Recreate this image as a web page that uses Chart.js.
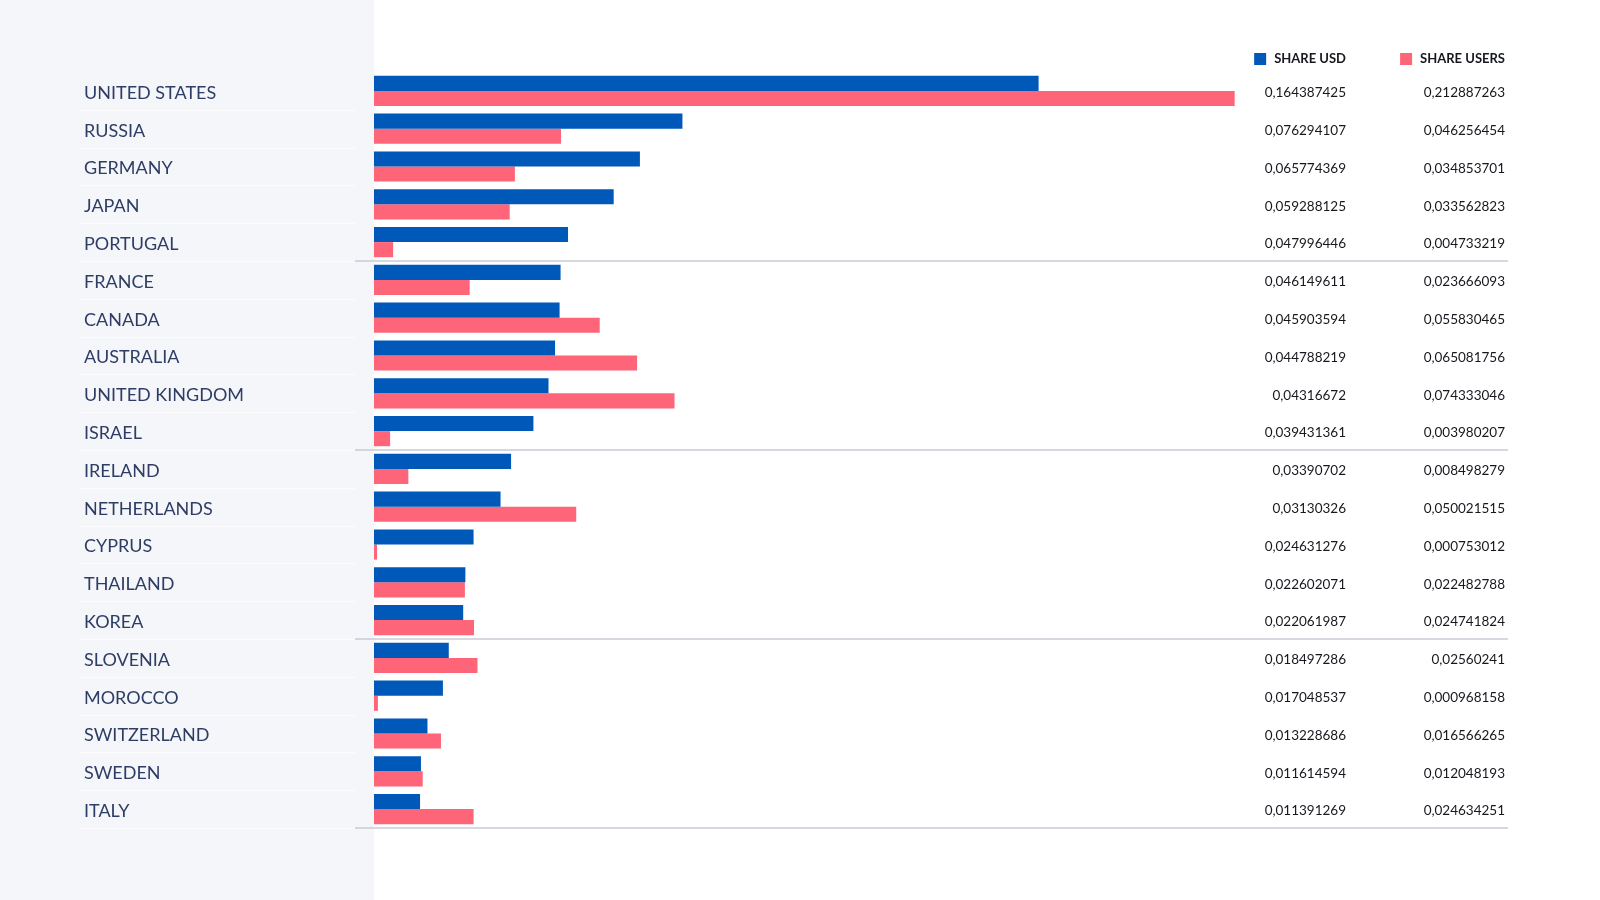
<!DOCTYPE html>
<html>
<head>
<meta charset="utf-8">
<title>Share USD vs Share Users</title>
<script src="https://cdn.jsdelivr.net/npm/chart.js@4"></script>
<style>
html,body{margin:0;padding:0;background:#fff;}
#wrap{width:1600px;height:900px;position:relative;}
</style>
</head>
<body>
<div id="wrap"><canvas id="chart" width="1600" height="900"></canvas></div>
<script>

let countries = ["UNITED STATES","RUSSIA","GERMANY","JAPAN","PORTUGAL","FRANCE","CANADA","AUSTRALIA","UNITED KINGDOM","ISRAEL","IRELAND","NETHERLANDS","CYPRUS","THAILAND","KOREA","SLOVENIA","MOROCCO","SWITZERLAND","SWEDEN","ITALY"];

let shareUsd = [0.164387425,0.076294107,0.065774369,0.059288125,0.047996446,0.046149611,0.045903594,0.044788219,0.04316672,0.039431361,0.03390702,0.03130326,0.024631276,0.022602071,0.022061987,0.018497286,0.017048537,0.013228686,0.011614594,0.011391269];

let shareUsers = [0.212887263,0.046256454,0.034853701,0.033562823,0.004733219,0.023666093,0.055830465,0.065081756,0.074333046,0.003980207,0.008498279,0.050021515,0.000753012,0.022482788,0.024741824,0.02560241,0.000968158,0.016566265,0.012048193,0.024634251];

// shown in the right-hand columns as written in the source (comma decimals)
let usdText = ["0,164387425","0,076294107","0,065774369","0,059288125","0,047996446","0,046149611","0,045903594","0,044788219","0,04316672","0,039431361","0,03390702","0,03130326","0,024631276","0,022602071","0,022061987","0,018497286","0,017048537","0,013228686","0,011614594","0,011391269"];
let usersText = ["0,212887263","0,046256454","0,034853701","0,033562823","0,004733219","0,023666093","0,055830465","0,065081756","0,074333046","0,003980207","0,008498279","0,050021515","0,000753012","0,022482788","0,024741824","0,02560241","0,000968158","0,016566265","0,012048193","0,024634251"];

const BLUE = "#0058b9";
const PINK = "#ff6578";
const PANEL = "#f5f6f9";

/* background panel, row lines, value columns, legend */
const decor = {
id:"decor",
beforeDraw(c){
let ctx = c.ctx;
let area = c.chartArea;
ctx.save();
ctx.fillStyle = PANEL;
ctx.fillRect(0,0,area.left,c.height);
ctx.restore();
},
afterDraw(c){
let ctx = c.ctx;
let area = c.chartArea;
let y = c.scales.y;
let step = (area.bottom - area.top) / countries.length;

ctx.save();

// faint row lines in the label panel
ctx.strokeStyle = "#fcfcfd";
ctx.lineWidth = 1;
for(let i=1;i<=countries.length;i++){
let ly = Math.round(area.top + i*step) + 0.5;
ctx.beginPath();
ctx.moveTo(80,ly);
ctx.lineTo(355,ly);
ctx.stroke();
}

// group separators every 5 rows
ctx.strokeStyle = "#c9cbd5";
ctx.lineWidth = 1.5;
for(let i=5;i<=countries.length;i+=5){
let ly = area.top + i*step;
ctx.beginPath();
ctx.moveTo(355,ly);
ctx.lineTo(1508,ly);
ctx.stroke();
}

// value columns
ctx.fillStyle = "#16181d";
ctx.font = "13.5px Lato";
ctx.textAlign = "right";
ctx.textBaseline = "middle";
countries.forEach((name,i)=>{
let py = y.getPixelForValue(i) + 2;
ctx.fillText(usdText[i],1346,py);
ctx.fillText(usersText[i],1505,py);
});

// legend
ctx.font = "bold 13px Lato";
let items = [[c.data.datasets[0],1346],[c.data.datasets[1],1505]];
items.forEach(([ds,rx])=>{
let w = ctx.measureText(ds.label).width;
ctx.fillStyle = "#16181d";
ctx.fillText(ds.label,rx,59);
ctx.fillStyle = ds.backgroundColor;
ctx.fillRect(rx - w - 20,53,12,12);
});

ctx.restore();
}
};

let ctx = document.getElementById("chart").getContext("2d");

let chart = new Chart(ctx,{
type:"bar",
data:{
labels:countries,
datasets:[{
label:"SHARE USD",
data:shareUsd,
backgroundColor:BLUE
},{
label:"SHARE USERS",
data:shareUsers,
backgroundColor:PINK
}]
},
options:{
indexAxis:"y",
responsive:false,
animation:false,
layout:{
padding:{left:84,right:92,top:72,bottom:72}
},
datasets:{
bar:{categoryPercentage:0.8,barPercentage:1.0}
},
plugins:{
legend:{display:false},
tooltip:{enabled:false}
},
scales:{
x:{
display:false,
min:0,
max:0.2805
},
y:{
border:{display:false},
grid:{display:false},
afterFit(s){ s.width = 290; },
ticks:{
crossAlign:"far",
color:"#2e3d66",
padding:0,
labelOffset:2,
font:{family:"Lato",size:18}
}
}
}
},
plugins:[decor]
});

</script>
</body>
</html>
